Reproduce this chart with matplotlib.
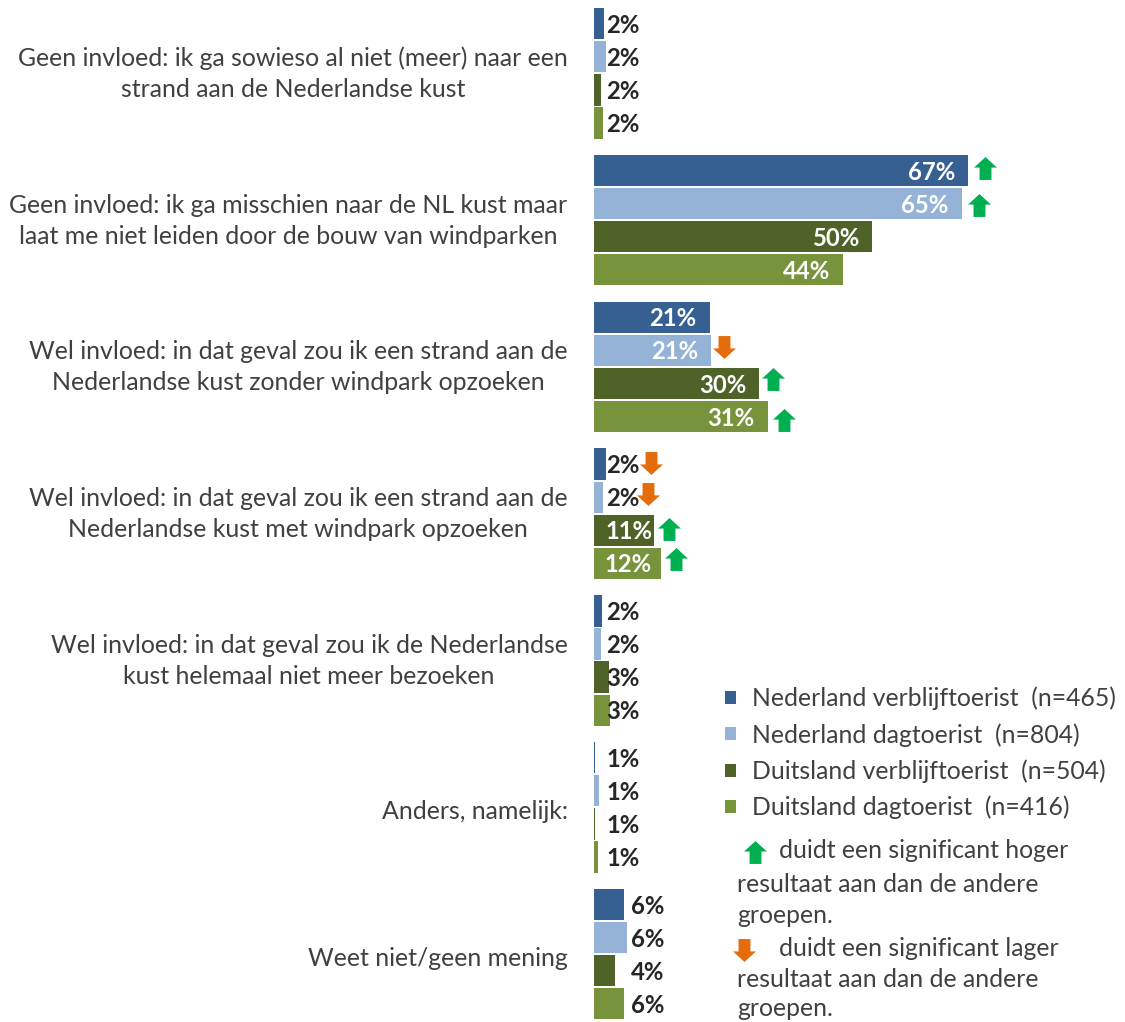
import matplotlib
matplotlib.use('Agg')
import numpy as np
import matplotlib.pyplot as plt
from matplotlib.transforms import ScaledTranslation

plt.rcParams['font.family'] = ['Lato', 'DejaVu Sans']

categories = [
    'Geen invloed: ik ga sowieso al niet (meer) naar een\nstrand aan de Nederlandse kust',
    'Geen invloed: ik ga misschien naar de NL kust maar\nlaat me niet leiden door de bouw van windparken',
    'Wel invloed: in dat geval zou ik een strand aan de\nNederlandse kust zonder windpark opzoeken',
    'Wel invloed: in dat geval zou ik een strand aan de\nNederlandse kust met windpark opzoeken',
    'Wel invloed: in dat geval zou ik de Nederlandse\nkust helemaal niet meer bezoeken',
    'Anders, namelijk:',
    'Weet niet/geen mening',
]
series_names = ['Nederland verblijftoerist  (n=465)', 'Nederland dagtoerist  (n=804)',
                'Duitsland verblijftoerist  (n=504)', 'Duitsland dagtoerist  (n=416)']
nl_verblijf = [1.85, 67.0, 20.7, 2.15, 1.5, 0.2, 5.4]
nl_dag = [2.15, 65.9, 21.0, 1.55, 1.2, 0.95, 6.0]
du_verblijf = [1.25, 49.8, 29.6, 10.8, 2.6, 0.2, 3.8]
du_dag = [1.55, 44.6, 31.1, 12.0, 2.9, 0.65, 5.4]
lab_nl_verblijf = [2, 67, 21, 2, 2, 1, 6]
lab_nl_dag = [2, 65, 21, 2, 2, 1, 6]
lab_du_verblijf = [2, 50, 30, 11, 3, 1, 4]
lab_du_dag = [2, 44, 31, 12, 3, 1, 6]

values = [nl_verblijf, nl_dag, du_verblijf, du_dag]
labels = [lab_nl_verblijf, lab_nl_dag, lab_du_verblijf, lab_du_dag]
colors = ['#376092', '#95B3D7', '#4F6228', '#77933C']

# significance arrows: group, series, direction
sig_group = [1, 1, 2, 2, 2, 3, 3, 3, 3]
sig_series = [0, 1, 1, 2, 3, 0, 1, 2, 3]
sig_dir = ['up', 'up', 'down', 'up', 'up', 'down', 'down', 'up', 'up']
# arrow offset from the bar end/centre in pixels
sig_dx = [17, 17, 13, 14, 16, 45, 45, 15, 15]
sig_dy = [-2, 1, -3, -4, 3, -1, -3, -1, -4]

W, H = 1125, 1022
GREEN, ORANGE = '#00B050', '#E46C0A'
TXT = '#404040'
FS = 17.9
FS_NOTE = 17.8
FS_VAL = 17.2

x0 = 594
px_x = 5.58      # pixels per percent
px_y = 146.8     # pixels per group
y0 = 73.35
step = 33.1 / px_y
label_dy = 1.5 / px_y

fig = plt.figure(figsize=(W / 100, H / 100), dpi=100)
ax = fig.add_axes([x0 / W, 0, 1 - x0 / W, 1])
ax.set_xlim(0, (W - x0) / px_x)
ax.set_ylim((H - y0) / px_y, -y0 / px_y)
for s in ax.spines.values():
    s.set_visible(False)

ypos = np.arange(len(categories))
ax.set_xticks([])
ax.set_yticks(ypos, categories, multialignment='center', fontsize=FS, color=TXT, linespacing=1.42)
ax.tick_params(axis='y', length=0, pad=19)
for lab in ax.get_yticklabels():
    shift = 5.5 if '\n' in lab.get_text() else -2.5
    lab.set_transform(lab.get_transform() + ScaledTranslation(0, shift / 100, fig.dpi_scale_trans))

for i in range(4):
    ax.barh(ypos + (i - 1.5) * step, values[i], height=31.3 / px_y, color=colors[i],
            linewidth=0, label=series_names[i], clip_on=False)


def data_xy(px, py):
    return (px - x0) / px_x, (py - y0) / px_y


# value labels
for i in range(4):
    for g in ypos:
        y = g + (i - 1.5) * step + label_dy
        v = values[i][g]
        txt = str(labels[i][g]) + '%'
        if v >= 20:
            ax.text(v - 13 / px_x, y, txt, ha='right', va='center', color='white',
                    fontsize=FS_VAL, fontweight='bold')
        elif v >= 10:
            ax.text(data_xy(652, 0)[0], y, txt, ha='right', va='center', color='white',
                    fontsize=FS_VAL, fontweight='bold')
        else:
            left = 631 if g == 6 else 606
            ax.text(data_xy(left, 0)[0], y, txt, ha='left', va='center', color='#262626',
                    fontsize=FS_VAL, fontweight='bold')

up_arrow = [(0, 1), (1, 0.08), (0.52, 0.08), (0.52, -1), (-0.52, -1), (-0.52, 0.08), (-1, 0.08), (0, 1)]
down_arrow = [(px, -py) for px, py in up_arrow]


def arrow(x, y, d):
    ax.plot([x], [y], marker=up_arrow if d == 'up' else down_arrow, ms=16.5, mew=0,
            color=GREEN if d == 'up' else ORANGE, ls='none', clip_on=False)


for g, i, d, dx, dy in zip(sig_group, sig_series, sig_dir, sig_dx, sig_dy):
    arrow(values[i][g] + dx / px_x, g + (i - 1.5) * step + dy / px_y, d)

ax.legend(loc='upper left', bbox_to_anchor=(725 / W, 1 - 686.5 / H), bbox_transform=fig.transFigure,
          frameon=False, fontsize=FS_NOTE, labelcolor=TXT, handlelength=0.45, handleheight=0.45,
          handletextpad=0.65, labelspacing=0.52, borderaxespad=0, borderpad=0)


def note(px, py, s):
    fig.text(px / W, 1 - py / H, s, fontsize=FS_NOTE, color=TXT, ha='left', va='center')


arrow(*data_xy(755, 852), 'up')
note(779, 850, 'duidt een significant hoger')
note(737, 884, 'resultaat aan dan de andere')
note(737, 915, 'groepen.')
arrow(*data_xy(744, 950), 'down')
note(779, 948, 'duidt een significant lager')
note(737, 979, 'resultaat aan dan de andere')
note(737, 1008, 'groepen.')

fig.savefig('out.png', dpi=100)
